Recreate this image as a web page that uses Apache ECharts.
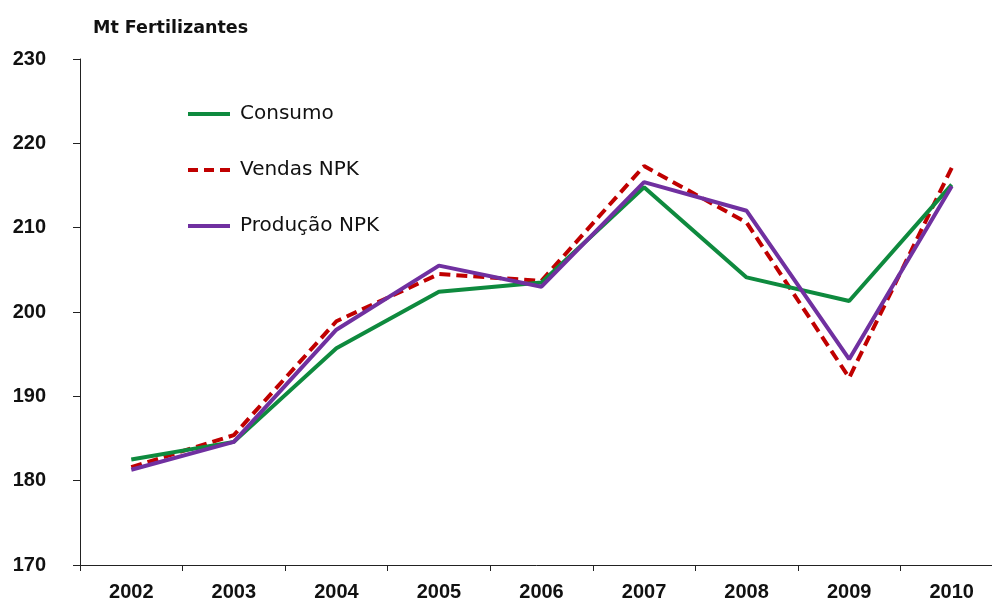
<!DOCTYPE html>
<html>
<head>
<meta charset="utf-8">
<script src="https://cdn.jsdelivr.net/npm/echarts@6/dist/echarts.min.js"></script>
<style>html,body{margin:0;padding:0;background:#fff}#c{width:992px;height:603px}</style>
</head>
<body>
<div id="c"></div>
<script>
var categories = ['2002','2003','2004','2005','2006','2007','2008','2009','2010'];
var consumo = [182.5, 184.6, 195.7, 202.4, 203.5, 214.8, 204.1, 201.3, 215.1];
var vendas = [181.6, 185.4, 198.9, 204.5, 203.7, 217.3, 210.6, 192.2, 217.1];
var producao = [181.3, 184.6, 197.9, 205.5, 203.0, 215.4, 212.0, 194.4, 214.9];
var yTicks = [170, 180, 190, 200, 210, 220, 230];

var solidIcon = 'path://M0,0h42v4h-42z';
var dashIcon = 'path://M0,0h10v4h-10z M16,0h10v4h-10z M32,0h10v4h-10z';

var chart = echarts.init(document.getElementById('c'), null, {renderer: 'canvas'});
chart.setOption({
  animation: false,
  backgroundColor: '#fff',
  title: {
    text: 'Mt Fertilizantes', left: 88, top: 14,
    textStyle: {fontFamily: 'DejaVu Sans', fontWeight: 'bold', fontSize: 17.5, color: '#111'}
  },
  legend: {
    orient: 'vertical', left: 183, top: 99, itemWidth: 42, itemHeight: 4, itemGap: 36,
    textStyle: {fontFamily: 'DejaVu Sans', fontSize: 20, lineHeight: 20, color: '#111', padding: [0,0,0,5]},
    data: [
      {name: 'Consumo', icon: solidIcon},
      {name: 'Vendas NPK', icon: dashIcon},
      {name: 'Produção NPK', icon: solidIcon}
    ]
  },
  grid: {left: 80, width: 923, top: 59, bottom: 38, containLabel: false, outerBoundsMode: 'none'},
  xAxis: {
    type: 'category', data: categories, boundaryGap: true,
    axisLine: {lineStyle: {color: '#222', width: 1}},
    axisTick: {show: true, length: 6, lineStyle: {color: '#222'}},
    axisLabel: {margin: 17, fontFamily: 'Liberation Sans', fontWeight: 'bold', fontSize: 20, color: '#111'}
  },
  yAxis: {
    type: 'value', min: yTicks[0], max: yTicks[yTicks.length-1], interval: 10,
    axisLine: {show: true, lineStyle: {color: '#222', width: 1}},
    axisTick: {show: true, length: 7, lineStyle: {color: '#222'}},
    splitLine: {show: false},
    axisLabel: {margin: 34, fontFamily: 'Liberation Sans', fontWeight: 'bold', fontSize: 20, color: '#111'}
  },
  series: [
    {name: 'Consumo', type: 'line', data: consumo, symbol: 'none',
     itemStyle: {color: '#0E8A3E'}, lineStyle: {color: '#0E8A3E', width: 4}, z: 2},
    {name: 'Vendas NPK', type: 'line', data: vendas, symbol: 'none',
     itemStyle: {color: '#C00000'}, lineStyle: {color: '#C00000', width: 4, type: [11, 6]}, z: 1},
    {name: 'Produção NPK', type: 'line', data: producao, symbol: 'none',
     itemStyle: {color: '#7030A0'}, lineStyle: {color: '#7030A0', width: 4}, z: 3}
  ]
});
</script>
</body>
</html>
